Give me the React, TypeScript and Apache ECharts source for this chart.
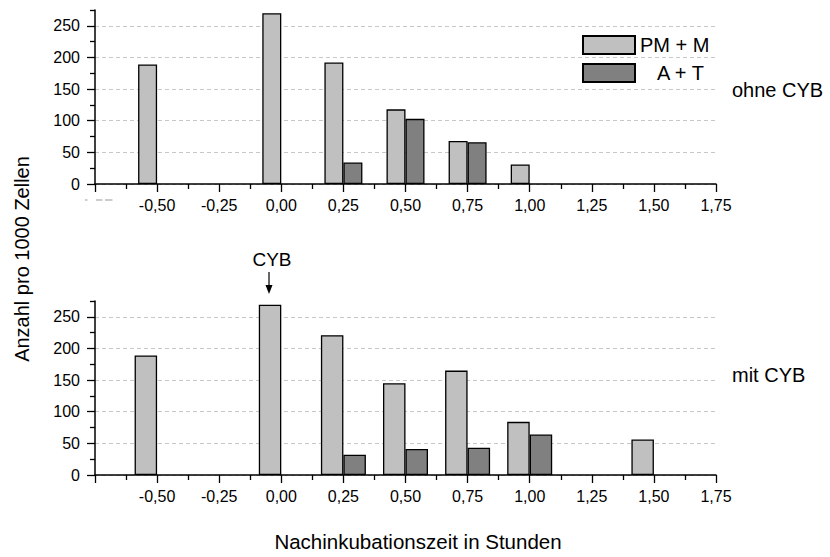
import React, { useEffect, useRef } from 'react';
import * as echarts from 'echarts';

// ---- data ----
const seriesNames = ['PM + M', 'A + T'];
const panelLabels = ['ohne CYB', 'mit CYB'];

const timesTopLight = [-0.5, 0, 0.25, 0.5, 0.75, 1.0];
const valuesTopLight = [189, 270, 192, 118, 68, 31];
const timesTopDark = [0.25, 0.5, 0.75];
const valuesTopDark = [34, 103, 66];

const timesBottomLight = [-0.5, 0, 0.25, 0.5, 0.75, 1.0, 1.5];
const valuesBottomLight = [189, 269, 221, 145, 165, 84, 56];
const timesBottomDark = [0.25, 0.5, 0.75, 1.0];
const valuesBottomDark = [32, 41, 43, 64];

const yMajorTicks = [0, 50, 100, 150, 200, 250];
const yMinorTicks = [25, 75, 125, 175, 225, 275];

const X_MIN = -0.75;
const X_MAX = 1.75;
const X_STEP = 0.25;
const Y_MAX = 275;

const FONT = '"Liberation Sans", Arial, sans-serif';
const LIGHT = '#c0c0c0';
const DARK = '#808080';

const zip = (xs: number[], ys: number[]) => xs.map((x, i) => [x, ys[i]]);

const fmtX = (v: number) => {
  if (v < X_MIN + 0.01) return '';
  const r = Math.round(v * 100) / 100;
  return (r === 0 ? 0 : r).toFixed(2).replace('.', ',');
};

function makeXAxis(gridIndex: number) {
  return {
    type: 'value',
    gridIndex,
    min: X_MIN,
    max: X_MAX,
    interval: X_STEP,
    axisLine: { show: true, onZero: false, lineStyle: { color: '#000', width: 1.5 } },
    axisTick: { show: true, length: 8, lineStyle: { color: '#000', width: 1.3 } },
    minorTick: { show: true, splitNumber: 2, length: 5, lineStyle: { color: '#000', width: 1.3 } },
    axisLabel: { formatter: fmtX, fontSize: 16, color: '#000', fontFamily: FONT, margin: 13, showMinLabel: true, showMaxLabel: true },
    splitLine: { show: false },
  };
}

function makeYAxes(gridIndex: number) {
  return [
    {
      type: 'value',
      gridIndex,
      min: 0,
      max: Y_MAX,
      interval: 50,
      position: 'left',
      axisLine: { show: true, onZero: false, lineStyle: { color: '#000', width: 1.5 } },
      axisTick: { show: true, length: 8, customValues: yMajorTicks, lineStyle: { color: '#000', width: 1.3 } },
      axisLabel: { customValues: yMajorTicks, fontSize: 16, color: '#000', fontFamily: FONT, margin: 15 },
      splitLine: { show: true, lineStyle: { color: '#c8c8c8', type: [4, 3], width: 1 } },
    },
    {
      type: 'value',
      gridIndex,
      min: 0,
      max: Y_MAX,
      interval: 25,
      position: 'left',
      offset: 0,
      axisLine: { show: false, onZero: false },
      axisTick: { show: true, length: 5, customValues: yMinorTicks, lineStyle: { color: '#000', width: 1.3 } },
      axisLabel: { show: false },
      splitLine: { show: false },
    },
  ];
}

function barSeries(name: string, color: string, xIdx: number, yIdx: number, data: number[][], width: number) {
  return {
    type: 'bar',
    name,
    xAxisIndex: xIdx,
    yAxisIndex: yIdx,
    data,
    barWidth: width,
    barGap: '0%',
    itemStyle: { color, borderColor: '#000', borderWidth: 1.3 },
  };
}

export default function App() {
  const ref = useRef<HTMLDivElement>(null);

  useEffect(() => {
    if (!ref.current) return;
    const chart = echarts.init(ref.current, null, { renderer: 'svg' });
    const textStyle = (text: string, size: number, align: string, vAlign = 'middle') => ({
      text,
      fontSize: size,
      fontFamily: FONT,
      fill: '#000',
      align,
      textAlign: align,
      verticalAlign: vAlign,
      textVerticalAlign: vAlign,
    });

    chart.setOption({
      animation: false,
      backgroundColor: '#fff',
      textStyle: { fontFamily: FONT },
      grid: [
        { left: 95, right: 114, top: 10, height: 174 },
        { left: 95, right: 114, top: 301, height: 174 },
      ],
      xAxis: [makeXAxis(0), makeXAxis(1)],
      yAxis: [...makeYAxes(0), ...makeYAxes(1)],
      legend: {
        data: seriesNames,
        orient: 'vertical',
        left: 582,
        top: 35,
        itemWidth: 52,
        itemHeight: 18,
        itemGap: 8,
        icon: 'rect',
        padding: 0,
        selectedMode: false,
        formatter: (n: string) => (n === seriesNames[1] ? `{p|${n}}` : `{q|${n}}`),
        textStyle: {
          fontSize: 20,
          color: '#000',
          fontFamily: FONT,
          rich: {
            p: { fontSize: 20, fontFamily: FONT, color: '#000', padding: [0, 0, 0, 17] },
            q: { fontSize: 20, fontFamily: FONT, color: '#000' },
          },
        },
      },
      series: [
        barSeries(seriesNames[0], LIGHT, 0, 0, zip(timesTopLight, valuesTopLight), 19),
        barSeries(seriesNames[1], DARK, 0, 0, zip(timesTopDark, valuesTopDark), 19),
        barSeries(seriesNames[0], LIGHT, 1, 2, zip(timesBottomLight, valuesBottomLight), 22.5),
        barSeries(seriesNames[1], DARK, 1, 2, zip(timesBottomDark, valuesBottomDark), 22.5),
      ],
      graphic: [
        { type: 'text', x: 22, y: 259, rotation: Math.PI / 2, style: textStyle('Anzahl pro 1000 Zellen', 20, 'center') },
        { type: 'text', x: 418, y: 541, style: textStyle('Nachinkubationszeit in Stunden', 20.5, 'center') },
        { type: 'text', x: 732, y: 90, style: textStyle(panelLabels[0], 20, 'left') },
        { type: 'text', x: 732, y: 375, style: textStyle(panelLabels[1], 20, 'left') },
        { type: 'text', x: 272, y: 259, style: textStyle('CYB', 19, 'center') },
        { type: 'line', shape: { x1: 269, y1: 272, x2: 269, y2: 288 }, style: { stroke: '#000', lineWidth: 1.2 } },
        { type: 'polygon', shape: { points: [[265.5, 285], [272.5, 285], [269, 294]] }, style: { fill: '#000' } },
        { type: 'line', shape: { x1: 85, y1: 200, x2: 87.5, y2: 200 }, style: { stroke: '#999', lineWidth: 1 } },
        { type: 'line', shape: { x1: 96, y1: 200, x2: 102.5, y2: 200 }, style: { stroke: '#999', lineWidth: 1 } },
        { type: 'line', shape: { x1: 105, y1: 200, x2: 112.5, y2: 200 }, style: { stroke: '#999', lineWidth: 1 } },
      ],
    });
    return () => chart.dispose();
  }, []);

  return <div ref={ref} style={{ width: 830, height: 557, position: 'fixed', left: 0, top: 0 }} />;
}
